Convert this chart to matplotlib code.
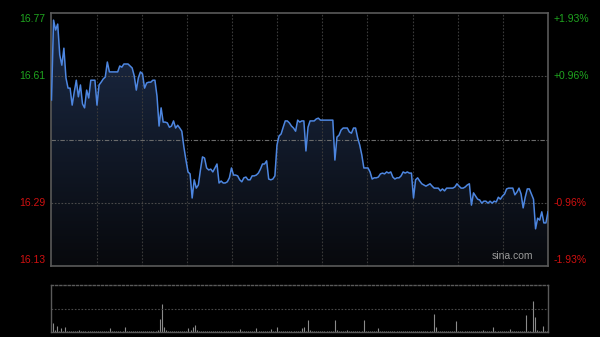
import numpy as np
import matplotlib
matplotlib.use("Agg")
import matplotlib.pyplot as plt

# minute-by-minute price (241 points, 9:30-11:30 + 13:00-15:00)
prices = [
    16.550, 16.752, 16.727, 16.742, 16.664, 16.638, 16.681, 16.606, 16.580, 16.580,
    16.537, 16.570, 16.600, 16.558, 16.588, 16.540, 16.530, 16.575, 16.555, 16.600,
    16.600, 16.600, 16.537, 16.588, 16.595, 16.603, 16.608, 16.646, 16.621, 16.621,
    16.621, 16.621, 16.621, 16.636, 16.633, 16.641, 16.641, 16.641, 16.636, 16.631,
    16.611, 16.575, 16.606, 16.621, 16.616, 16.580, 16.593, 16.595, 16.595, 16.600,
    16.600, 16.560, 16.484, 16.530, 16.494, 16.494, 16.492, 16.481, 16.484, 16.497,
    16.479, 16.486, 16.479, 16.471, 16.431, 16.398, 16.368, 16.363, 16.302, 16.348,
    16.327, 16.335, 16.373, 16.406, 16.403, 16.378, 16.373, 16.375, 16.368, 16.378,
    16.388, 16.340, 16.345, 16.340, 16.340, 16.343, 16.353, 16.378, 16.360, 16.360,
    16.358, 16.348, 16.343, 16.353, 16.355, 16.348, 16.348, 16.358, 16.358, 16.360,
    16.365, 16.375, 16.388, 16.388, 16.396, 16.350, 16.348, 16.350, 16.358, 16.436,
    16.459, 16.464, 16.481, 16.497, 16.497, 16.492, 16.484, 16.479, 16.471, 16.499,
    16.494, 16.497, 16.497, 16.421, 16.481, 16.497, 16.497, 16.497, 16.502, 16.504,
    16.499, 16.499, 16.499, 16.499, 16.499, 16.499, 16.499, 16.398, 16.456, 16.461,
    16.474, 16.479, 16.479, 16.479, 16.469, 16.466, 16.479, 16.479, 16.454, 16.436,
    16.411, 16.378, 16.378, 16.378, 16.368, 16.350, 16.353, 16.353, 16.355, 16.363,
    16.365, 16.363, 16.368, 16.365, 16.368, 16.355, 16.350, 16.353, 16.353, 16.358,
    16.368, 16.365, 16.368, 16.365, 16.365, 16.302, 16.348, 16.353, 16.345, 16.338,
    16.335, 16.332, 16.335, 16.338, 16.332, 16.327, 16.327, 16.327, 16.320, 16.325,
    16.320, 16.327, 16.327, 16.327, 16.327, 16.330, 16.338, 16.332, 16.327, 16.327,
    16.330, 16.335, 16.338, 16.284, 16.315, 16.307, 16.299, 16.297, 16.289, 16.294,
    16.294, 16.289, 16.294, 16.289, 16.294, 16.292, 16.304, 16.299, 16.307, 16.312,
    16.325, 16.327, 16.327, 16.327, 16.310, 16.317, 16.327, 16.312, 16.277, 16.304,
    16.325, 16.325, 16.312, 16.299, 16.224, 16.251, 16.246, 16.267, 16.239, 16.239,
    16.267,
]

# volume per minute (arbitrary units)
volume = [
    93, 20, 60, 15, 40, 12, 50, 10, 14, 8, 12, 9, 10, 20, 8, 10, 7, 12, 9, 8,
    10, 14, 8, 9, 12, 8, 10, 9, 40, 10, 8, 9, 12, 8, 10, 50, 9, 8, 10, 12,
    9, 8, 10, 12, 9, 14, 10, 8, 12, 10, 15, 20, 130, 280, 50, 25, 12, 9, 10, 14,
    9, 8, 10, 12, 8, 15, 40, 20, 50, 70, 20, 12, 9, 10, 8, 12, 9, 10, 8, 9,
    10, 12, 8, 9, 10, 8, 12, 9, 10, 8, 12, 30, 10, 8, 9, 12, 8, 10, 9, 40,
    10, 8, 12, 9, 10, 8, 30, 12, 9, 50, 10, 8, 9, 12, 8, 10, 9, 8, 12, 10,
    9, 40, 50, 12, 120, 20, 10, 8, 9, 12, 8, 10, 9, 12, 8, 10, 14, 120, 20, 9,
    10, 12, 8, 25, 10, 9, 12, 8, 10, 9, 12, 120, 15, 10, 8, 12, 9, 10, 40, 9,
    8, 12, 10, 9, 8, 12, 10, 9, 8, 10, 12, 9, 8, 10, 9, 12, 8, 10, 9, 12,
    8, 10, 9, 12, 8, 180, 50, 12, 9, 10, 8, 12, 9, 10, 8, 9, 110, 12, 8, 10,
    9, 12, 8, 10, 9, 8, 12, 10, 9, 20, 10, 8, 12, 9, 50, 10, 8, 9, 12, 10,
    8, 9, 30, 12, 10, 8, 9, 12, 10, 8, 170, 12, 10, 310, 150, 20, 12, 10, 60, 15,
    10,
]

prev_close = 16.45
y_min, y_max = 16.13, 16.77
left_labels = ["16.77", "16.61", "16.29", "16.13"]
left_vals = [16.77, 16.61, 16.29, 16.13]
left_colors = ["#1fa51f", "#1fa51f", "#d01010", "#d01010"]
right_labels = ["+1.93%", "+0.96%", "-0.96%", "-1.93%"]

plt.rcParams['font.family'] = ['Liberation Sans', 'DejaVu Sans']

fig = plt.figure(figsize=(6, 3.37), dpi=100, facecolor="black")
ax = fig.add_axes([0.0858, 0.2107, 0.8275, 0.7507], facecolor="black")
axv = fig.add_axes([0.0858, 0.0148, 0.8275, 0.1395], facecolor="black")

x = np.arange(len(prices))
n = len(prices) - 1

# gradient fill under the price line
poly = ax.fill_between(x, prices, y_min, color="none", linewidth=0)
grad = np.linspace(0, 1, 256).reshape(-1, 1)
top_c = np.array([0.11, 0.17, 0.28])
bot_c = np.array([0.03, 0.035, 0.05])
img = bot_c + (top_c - bot_c) * grad
im = ax.imshow(img[:, None, :].repeat(2, axis=1), extent=[0, n, y_min, y_max],
               origin="lower", aspect="auto", zorder=1)
path = poly.get_paths()[0]
im.set_clip_path(path, transform=ax.transData)

ax.plot(x, prices, color="#4d86e0", linewidth=1.1, zorder=3)

# grid
for k in range(1, 11):
    ax.axvline(n * k / 11, color="#3a3a3a", linestyle=(0, (1.5, 1.5)), linewidth=0.8, zorder=2)
for v in [16.61, 16.29]:
    ax.axhline(v, color="#4a4a4a", linestyle=(0, (1.5, 1.5)), linewidth=0.8, zorder=2)
ax.axhline(prev_close, color="#6a6a6a", linestyle=(0, (4, 1.5, 1, 1.5)), linewidth=0.8, zorder=2)

ax.set_xlim(0, n)
ax.set_ylim(y_min, y_max)
ax.set_xticks([])
ax.set_yticks([])
for s in ax.spines.values():
    s.set_color("#5a5a5a")
    s.set_linewidth(1.2)

# side labels
offsets = [-0.022, 0, 0, 0.022]
for v, lab, col, rlab, off in zip(left_vals, left_labels, left_colors, right_labels, offsets):
    ax.text(-0.012, v + off * (y_max - y_min) / 1.0, lab, transform=ax.get_yaxis_transform(),
            ha="right", va="center", color=col, fontsize=7.5)
    ax.text(1.012, v + off * (y_max - y_min) / 1.0, rlab, transform=ax.get_yaxis_transform(),
            ha="left", va="center", color=col, fontsize=7.5)

ax.text(0.97, 0.018, "sina.com", transform=ax.transAxes, ha="right", va="bottom",
        color="#9a9a9a", fontsize=7.5, zorder=4)

# volume panel
axv.vlines(x, 0, volume, color="#8a8a8a", linewidth=0.8)
vmax = 470
axv.set_xlim(-0.5, n + 0.5)
axv.set_ylim(0, vmax)
axv.axhline(vmax / 2, color="#4a4a4a", linestyle=(0, (1.5, 1.5)), linewidth=0.8)
axv.set_xticks([])
axv.set_yticks([])
for s in axv.spines.values():
    s.set_color("#5a5a5a")
    s.set_linewidth(1.0)
axv.spines["top"].set_linestyle((0, (1.5, 1.5)))

fig.savefig("out.png", dpi=100, facecolor="black")
